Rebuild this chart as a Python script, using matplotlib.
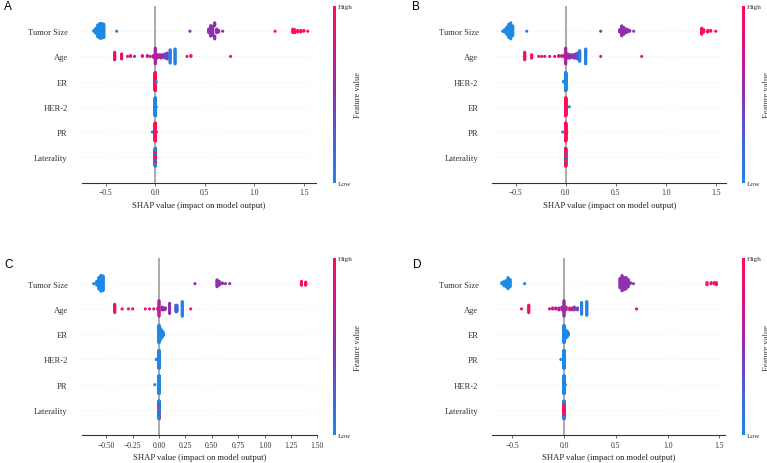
import numpy as np
import matplotlib
matplotlib.use("Agg")
from matplotlib import pyplot as plt
from matplotlib.colors import LinearSegmentedColormap
from matplotlib.cm import ScalarMappable
from matplotlib.ticker import MultipleLocator

plt.rcParams['font.family'] = ['Liberation Serif', 'DejaVu Serif']

# each entry: (SHAP value, feature value 0..1, number of samples)
# Panel A
a_names = ["Tumor Size", "Age", "ER", "HER-2", "PR", "Laterality"]
a_tumor = [(-0.62, 0.0, 2), (-0.60, 0.0, 8), (-0.58, 0.0, 18), (-0.56, 0.02, 22), (-0.54, 0.0, 22),
           (-0.52, 0.0, 20), (-0.39, 0.05, 1), (0.35, 0.5, 1), (0.54, 0.5, 6), (0.56, 0.5, 16),
           (0.58, 0.5, 14), (0.60, 0.5, 10), (0.62, 0.5, 6), (0.64, 0.5, 3), (0.68, 0.5, 1),
           (1.21, 1.0, 1), (1.39, 1.0, 6), (1.41, 1.0, 5), (1.44, 1.0, 3), (1.47, 1.0, 3),
           (1.50, 1.0, 2), (1.54, 1.0, 1)]
a_age = [(-0.41, 0.95, 10), (-0.34, 0.9, 7), (-0.28, 0.9, 1), (-0.25, 0.88, 2), (-0.21, 0.85, 1),
         (-0.13, 0.8, 2), (-0.08, 0.8, 2), (-0.05, 0.75, 1), (-0.02, 0.7, 3), (0.0, 0.6, 20),
         (0.02, 0.65, 5), (0.04, 0.6, 4), (0.06, 0.55, 5), (0.08, 0.5, 4), (0.10, 0.45, 6),
         (0.12, 0.35, 8), (0.15, 0.1, 17), (0.20, 0.05, 19), (0.32, 0.9, 1), (0.36, 0.9, 2),
         (0.76, 0.95, 1)]
a_er = [(0.0, 1.0, 150), (0.01, 0.0, 1)]
a_her2 = [(0.0, 0.0, 150), (0.01, 0.0, 1)]
a_pr = [(-0.03, 0.0, 1), (0.0, 1.0, 150), (0.01, 1.0, 2)]
a_lat = [(0.0, 0.0, 20), (0.0, 1.0, 30), (0.0, 0.0, 20), (0.0, 1.0, 30), (0.0, 0.0, 30)]

# Panel B
b_names = ["Tumor Size", "Age", "HER-2", "ER", "PR", "Laterality"]
b_tumor = [(-0.63, 0.0, 1), (-0.61, 0.0, 4), (-0.59, 0.0, 10), (-0.57, 0.0, 18), (-0.55, 0.0, 22),
           (-0.53, 0.0, 14), (-0.39, 0.05, 1), (0.35, 0.5, 1), (0.54, 0.5, 4), (0.56, 0.5, 14),
           (0.58, 0.5, 10), (0.60, 0.5, 6), (0.62, 0.5, 4), (0.64, 0.5, 2), (0.68, 0.5, 1),
           (1.36, 1.0, 9), (1.38, 1.0, 4), (1.42, 1.0, 3), (1.45, 1.0, 2), (1.50, 1.0, 1)]
b_age = [(-0.41, 0.95, 10), (-0.34, 0.9, 5), (-0.27, 0.9, 1), (-0.24, 0.88, 1), (-0.21, 0.85, 1),
         (-0.16, 0.85, 1), (-0.11, 0.8, 1), (-0.07, 0.8, 2), (-0.04, 0.75, 2), (-0.01, 0.7, 4),
         (0.0, 0.6, 20), (0.02, 0.6, 6), (0.04, 0.55, 5), (0.06, 0.5, 4), (0.08, 0.5, 5),
         (0.10, 0.45, 6), (0.12, 0.35, 8), (0.14, 0.1, 14), (0.20, 0.05, 19), (0.35, 0.9, 1),
         (0.76, 0.95, 1)]
b_her2 = [(-0.02, 0.0, 3), (-0.01, 0.0, 10), (0.0, 0.0, 150)]
b_er = [(0.0, 1.0, 150), (0.035, 0.0, 1)]
b_pr = [(-0.03, 0.0, 1), (0.0, 1.0, 150), (0.01, 1.0, 2)]
b_lat = [(0.0, 1.0, 30), (0.0, 0.0, 10), (0.0, 1.0, 40), (0.0, 0.0, 10), (0.0, 1.0, 30)]

# Panel C
c_names = ["Tumor Size", "Age", "ER", "HER-2", "PR", "Laterality"]
c_tumor = [(-0.62, 0.0, 1), (-0.59, 0.0, 6), (-0.57, 0.0, 16), (-0.55, 0.0, 22), (-0.53, 0.0, 20),
           (0.34, 0.5, 1), (0.55, 0.5, 10), (0.57, 0.5, 6), (0.60, 0.5, 2), (0.63, 0.5, 1),
           (0.67, 0.5, 1), (1.35, 1.0, 6), (1.39, 1.0, 5)]
c_age = [(-0.42, 0.95, 10), (-0.35, 0.9, 1), (-0.29, 0.9, 1), (-0.25, 0.88, 1), (-0.13, 0.85, 1),
         (-0.09, 0.8, 1), (-0.05, 0.75, 1), (-0.01, 0.7, 3), (0.0, 0.65, 18), (0.03, 0.6, 4),
         (0.05, 0.55, 3), (0.06, 0.5, 2), (0.10, 0.5, 12), (0.16, 0.3, 8), (0.17, 0.2, 8),
         (0.22, 0.05, 17), (0.30, 0.95, 1)]
c_er = [(0.0, 0.0, 60), (0.01, 0.0, 40), (0.02, 0.0, 30), (0.03, 0.0, 20), (0.04, 0.0, 10)]
c_her2 = [(-0.025, 0.0, 2), (-0.01, 0.0, 10), (0.0, 0.0, 120)]
c_pr = [(-0.04, 0.0, 1), (0.0, 0.0, 150)]
c_lat = [(0.0, 0.0, 40), (0.0, 1.0, 8), (0.0, 0.0, 20), (0.0, 1.0, 8), (0.0, 0.0, 20),
         (0.0, 1.0, 8), (0.0, 0.0, 20)]

# Panel D
d_names = ["Tumor Size", "Age", "ER", "PR", "HER-2", "Laterality"]
d_tumor = [(-0.60, 0.0, 2), (-0.58, 0.0, 5), (-0.56, 0.0, 7), (-0.54, 0.0, 12), (-0.52, 0.0, 8),
           (-0.38, 0.05, 1), (0.54, 0.5, 10), (0.56, 0.5, 16), (0.58, 0.5, 13), (0.60, 0.5, 12),
           (0.62, 0.5, 8), (0.64, 0.5, 2), (0.67, 0.5, 1), (1.38, 1.0, 3), (1.42, 1.0, 2),
           (1.45, 1.0, 2), (1.47, 1.0, 3)]
d_age = [(-0.41, 0.95, 1), (-0.34, 0.9, 9), (-0.14, 0.75, 1), (-0.11, 0.7, 2), (-0.08, 0.7, 2),
         (-0.05, 0.65, 3), (-0.02, 0.6, 4), (0.0, 0.55, 18), (0.02, 0.55, 4), (0.055, 0.95, 3),
         (0.08, 0.5, 3), (0.10, 0.45, 4), (0.13, 0.4, 3), (0.17, 0.05, 14), (0.22, 0.05, 16),
         (0.70, 0.95, 1)]
d_er = [(0.0, 0.0, 60), (0.01, 0.0, 30), (0.02, 0.0, 25), (0.03, 0.0, 20), (0.04, 0.0, 8)]
d_pr = [(-0.03, 0.0, 1), (0.0, 0.0, 150)]
d_her2 = [(0.0, 0.0, 150), (0.01, 0.0, 3)]
d_lat = [(0.0, 1.0, 60), (0.0, 0.0, 10), (0.0, 1.0, 20), (0.0, 0.0, 20)]

W, H = 767, 464
fig = plt.figure(figsize=(W / 100, H / 100), dpi=100)

cmap = LinearSegmentedColormap.from_list(
    "red_blue", ["#1e88e5", "#4a5fd6", "#8e30ad", "#d3128a", "#ff0d57"])
GRAY = "#333333"


def beeswarm(ax, groups, pos, row_height=0.4):
    # same jitter layout as the shap summary plot
    vals = np.array([g[0] for g in groups for _ in range(g[2])], dtype=float)
    cols = np.array([g[1] for g in groups for _ in range(g[2])], dtype=float)
    quant = np.round(100 * (vals - vals.min()) / (vals.max() - vals.min() + 1e-8))
    inds = np.argsort(quant, kind="stable")
    ys = np.zeros(len(vals))
    layer, last = 0, -1
    for i in inds:
        if quant[i] != last:
            layer = 0
        ys[i] = np.ceil(layer / 2) * ((layer % 2) * 2 - 1)
        layer += 1
        last = quant[i]
    ys *= 0.9 * (row_height / np.max(ys + 1))
    ax.scatter(vals, pos + ys, c=cols, cmap=cmap, vmin=0, vmax=1, s=5,
               linewidth=0, zorder=3)


def panel(box, cx, letter, lxy, names, feats, xlim, step):
    x0, y0, x1, y1 = box
    ax = fig.add_axes([x0 / W, 1 - y1 / H, (x1 - x0) / W, (y1 - y0) / H])
    n = len(names)
    for k, groups in enumerate(feats):
        pos = n - 1 - k
        ax.axhline(pos, color="#cccccc", lw=0.5, dashes=(1, 5), zorder=-1)
        beeswarm(ax, groups, pos)
    ax.axvline(0, color="#aaaaaa", lw=1.4, zorder=-1)
    ax.set_ylim(-1, n)
    ax.set_xlim(*xlim)
    ax.set_yticks(range(n))
    ax.set_yticklabels(names[::-1])
    ax.xaxis.set_major_locator(MultipleLocator(step))
    for s in ["top", "right", "left"]:
        ax.spines[s].set_visible(False)
    ax.spines["bottom"].set_color(GRAY)
    ax.spines["bottom"].set_linewidth(0.8)
    ax.tick_params(axis="y", length=0, pad=10, labelsize=6.1, labelcolor=GRAY)
    ax.tick_params(axis="x", length=2, width=0.5, pad=2.2, labelsize=5.5,
                   color=GRAY, labelcolor=GRAY)
    ax.set_xlabel("SHAP value (impact on model output)", fontsize=6.2,
                  labelpad=3, color="#222222")
    ax.patch.set_alpha(0)

    cax = fig.add_axes([cx / W, 1 - y1 / H, 3 / W, (y1 - y0) / H])
    cb = fig.colorbar(ScalarMappable(cmap=cmap), cax=cax, ticks=[0, 1])
    cb.set_ticklabels(["Low", "High"])
    cb.outline.set_visible(False)
    cb.ax.tick_params(labelsize=5.3, length=0, pad=1.5, labelcolor=GRAY)
    cb.set_label("Feature value", size=6, labelpad=1, color=GRAY)

    fig.text(lxy[0] / W, 1 - lxy[1] / H, letter, ha="center", va="center",
             fontsize=8.5, family="Liberation Sans")


panel((81.7, 7, 316, 183.5), 332.5, "A", (8.3, 7.5), a_names,
      [a_tumor, a_age, a_er, a_her2, a_pr, a_lat], (-0.743, 1.623), 0.5)
panel((492.3, 7, 726.3, 183.5), 741.5, "B", (415.5, 7.5), b_names,
      [b_tumor, b_age, b_her2, b_er, b_pr, b_lat], (-0.734, 1.606), 0.5)
panel((81.7, 259.4, 317.3, 436.2), 332.5, "C", (8.3, 265.3), c_names,
      [c_tumor, c_age, c_er, c_her2, c_pr, c_lat], (-0.733, 1.50), 0.25)
panel((492.3, 259.4, 724.7, 436.2), 741.5, "D", (417.5, 265.3), d_names,
      [d_tumor, d_age, d_er, d_pr, d_her2, d_lat], (-0.692, 1.551), 0.5)

fig.savefig("out.png", dpi=100)
